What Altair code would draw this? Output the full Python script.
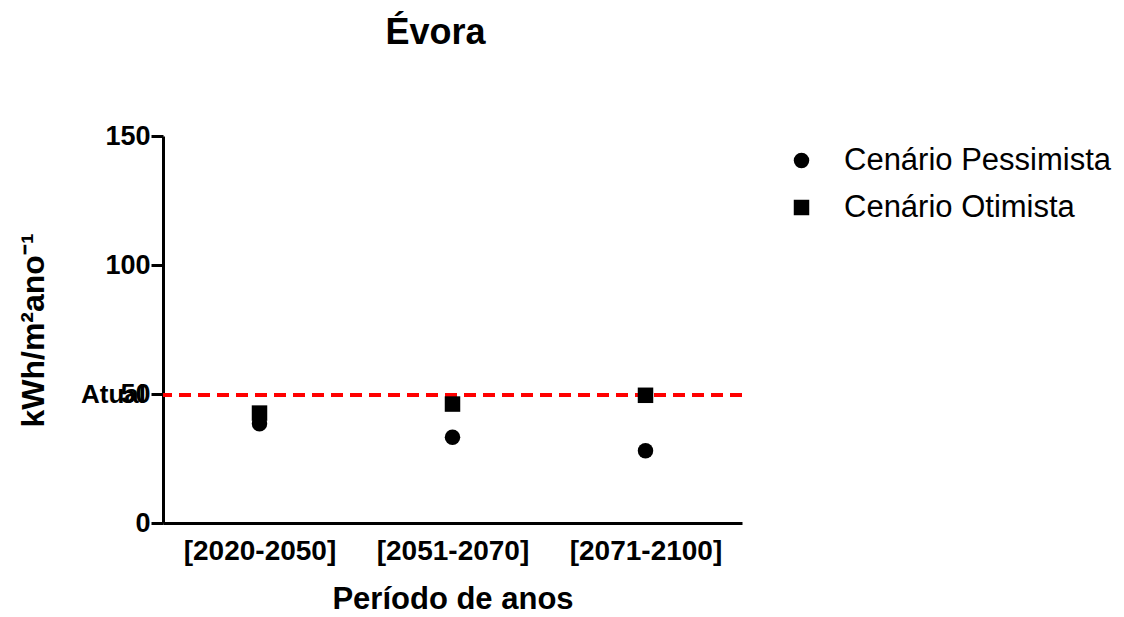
import altair as alt
import pandas as pd

periods = ["[2020-2050]", "[2051-2070]", "[2071-2100]"]
pessimista = [38.5, 33.2, 28.0]
otimista = [42.6, 46.1, 49.5]
atual = 49.6
series_names = ["Cenário Pessimista", "Cenário Otimista"]

rows = []
for p, v in zip(periods, otimista):
    rows.append({"periodo": p, "valor": v, "cenario": series_names[1]})
for p, v in zip(periods, pessimista):
    rows.append({"periodo": p, "valor": v, "cenario": series_names[0]})
df = pd.DataFrame(rows)

FONT = "Liberation Sans"

x = alt.X("periodo:N", sort=periods,
          scale=alt.Scale(paddingInner=0, paddingOuter=0),
          axis=alt.Axis(title="Período de anos", labelAngle=0, ticks=False,
                        domainWidth=3, domainColor="black",
                        labelFont=FONT, labelFontSize=28, labelFontWeight="bold",
                        labelColor="black", labelPadding=14,
                        titleFont=FONT, titleFontSize=31, titleFontWeight="bold",
                        titleColor="black", titleY=85, titleBaseline="alphabetic"))
y = alt.Y("valor:Q", scale=alt.Scale(domain=[0, 150], nice=False),
          axis=alt.Axis(title="kWh/m²ano⁻¹", values=[0, 50, 100, 150], grid=False,
                        domainWidth=3, domainColor="black",
                        tickWidth=3, tickSize=12, tickColor="black",
                        labelFont=FONT, labelFontSize=27, labelFontWeight="bold",
                        labelColor="black", labelPadding=1,
                        titleFont=FONT, titleFontSize=32, titleFontWeight="bold",
                        titleColor="black", titleX=-130, titleY=194,
                        titleAngle=-90, titleBaseline="middle", titleAlign="center"))

points = alt.Chart(df).mark_point(filled=True, opacity=1, color="black", size=240).encode(
    x=x, y=y,
    shape=alt.Shape("cenario:N", sort=series_names,
                    scale=alt.Scale(domain=series_names, range=["circle", "square"]),
                    legend=alt.Legend(title=None, orient="none", legendX=623, legendY=9,
                                      padding=0, labelLimit=500,
                                      labelFont=FONT, labelFontSize=31, labelColor="black",
                                      labelOffset=27, rowPadding=15, symbolSize=240,
                                      symbolFillColor="black", symbolStrokeColor="black",
                                      symbolStrokeWidth=0)),
)

ref_df = pd.DataFrame({"valor": [atual], "label": ["Atual"]})
rule = alt.Chart(ref_df).mark_rule(color="#ff0000", strokeWidth=4, strokeDash=[12, 7]).encode(
    y=alt.Y("valor:Q", scale=alt.Scale(domain=[0, 150], nice=False))
)
label = alt.Chart(ref_df).mark_text(align="right", baseline="middle", font=FONT,
                                    fontSize=26, fontWeight="bold", color="black").encode(
    y=alt.Y("valor:Q", scale=alt.Scale(domain=[0, 150], nice=False)),
    x=alt.value(-17), text="label:N"
)

chart = alt.layer(rule, points, label).properties(
    width=579, height=387,
    background="white",
    title=alt.TitleParams("Évora", font=FONT, fontSize=36, fontWeight="bold",
                          color="black", anchor="middle", dx=-17, offset=70),
    autosize=alt.AutoSizeParams(type="none"),
    padding={"left": 163, "top": 136, "right": 382, "bottom": 94},
).configure_view(strokeWidth=0, stroke="transparent")

chart.save("out.html", embed_options={"renderer": "svg", "actions": False})
